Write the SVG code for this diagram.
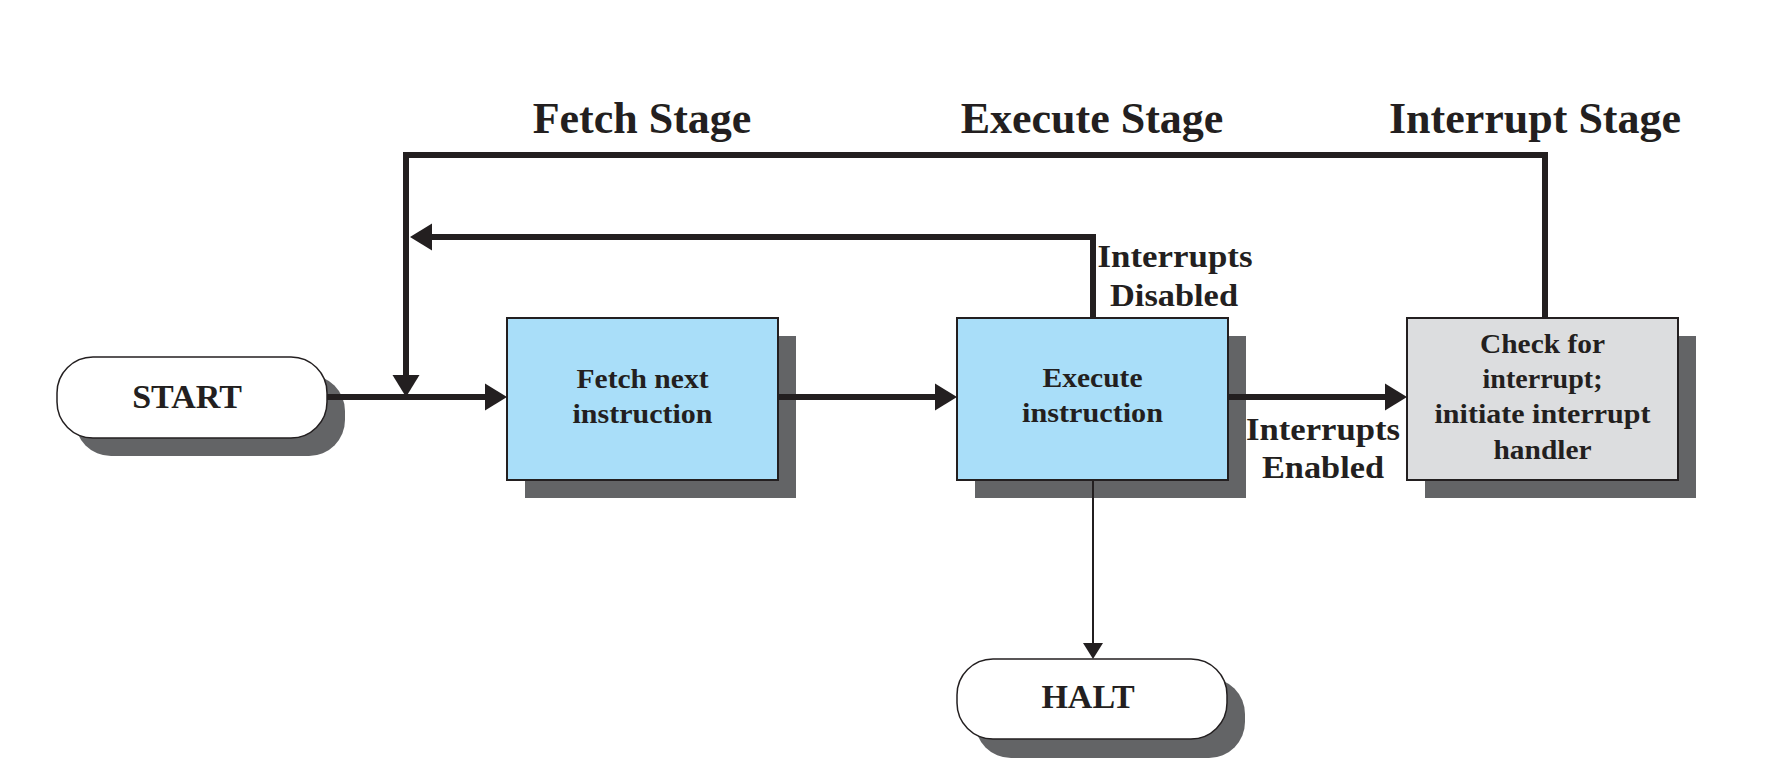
<svg xmlns="http://www.w3.org/2000/svg" width="1790" height="782" viewBox="0 0 1790 782">
  <style>
    .shadow { fill: #636466; }
    .box { stroke: #231f20; stroke-width: 2; }
    .blue { fill: #a9def9; }
    .gray { fill: #dcdddf; }
    .pill { fill: #ffffff; stroke: #231f20; stroke-width: 1.5; }
    text { font-family: "Liberation Serif", "Times New Roman", serif; font-weight: bold; fill: #231f20; text-anchor: middle; }
    .stage { font-size: 44px; }
    .term { font-size: 34px; }
    .node { font-size: 27px; }
    .lbl { font-size: 31px; }
    .thick { fill: none; stroke: #231f20; stroke-width: 6; stroke-linejoin: miter; }
    .thin { fill: none; stroke: #231f20; stroke-width: 2; }
  </style>
  <defs>
    <marker id="ah" markerUnits="userSpaceOnUse" markerWidth="24" markerHeight="28" refX="0" refY="13.5" orient="auto" overflow="visible">
      <path d="M0,0 L22,13.5 L0,27 Z" fill="#231f20"/>
    </marker>
    <marker id="ahs" markerUnits="userSpaceOnUse" markerWidth="18" markerHeight="22" refX="0" refY="10" orient="auto" overflow="visible">
      <path d="M0,0 L16,10 L0,20 Z" fill="#231f20"/>
    </marker>
  </defs>

  <g id="stage-labels">
    <text class="stage" x="642" y="133">Fetch Stage</text>
    <text class="stage" x="1092" y="133">Execute Stage</text>
    <text class="stage" x="1535" y="133">Interrupt Stage</text>
  </g>

  <g id="start">
    <rect class="shadow" x="75" y="375" width="270" height="81" rx="36" ry="36"/>
    <rect class="pill" x="57" y="357" width="270" height="81" rx="36" ry="36"/>
    <text class="term" x="187" y="408">START</text>
  </g>

  <g id="fetch">
    <rect class="shadow" x="525" y="336" width="271" height="162"/>
    <rect class="box blue" x="507" y="318" width="271" height="162"/>
    <text class="node" x="642.5" y="388" textLength="132" lengthAdjust="spacingAndGlyphs">Fetch next</text>
    <text class="node" x="642.5" y="423" textLength="140" lengthAdjust="spacingAndGlyphs">instruction</text>
  </g>

  <g id="execute">
    <rect class="shadow" x="975" y="336" width="271" height="162"/>
    <rect class="box blue" x="957" y="318" width="271" height="162"/>
    <text class="node" x="1092.5" y="387" textLength="100" lengthAdjust="spacingAndGlyphs">Execute</text>
    <text class="node" x="1092.5" y="422" textLength="141" lengthAdjust="spacingAndGlyphs">instruction</text>
  </g>

  <g id="check">
    <rect class="shadow" x="1425" y="336" width="271" height="162"/>
    <rect class="box gray" x="1407" y="318" width="271" height="162"/>
    <text class="node" x="1542.5" y="353" textLength="125" lengthAdjust="spacingAndGlyphs">Check for</text>
    <text class="node" x="1542.5" y="388" textLength="120" lengthAdjust="spacingAndGlyphs">interrupt;</text>
    <text class="node" x="1542.5" y="423" textLength="216" lengthAdjust="spacingAndGlyphs">initiate interrupt</text>
    <text class="node" x="1542.5" y="459" textLength="98" lengthAdjust="spacingAndGlyphs">handler</text>
  </g>

  <g id="halt">
    <rect class="shadow" x="975" y="678" width="270" height="80" rx="36" ry="36"/>
    <rect class="pill" x="957" y="659" width="270" height="80" rx="36" ry="36"/>
    <text class="term" x="1088" y="708">HALT</text>
  </g>

  <g id="connectors">
    <line class="thick" x1="327" y1="397" x2="485" y2="397" marker-end="url(#ah)"/>
    <line class="thick" x1="778" y1="397" x2="935" y2="397" marker-end="url(#ah)"/>
    <line class="thick" x1="1228" y1="397" x2="1385" y2="397" marker-end="url(#ah)"/>
    <line class="thin" x1="1093" y1="480" x2="1093" y2="643" marker-end="url(#ahs)"/>
    <path class="thick" d="M1093,318 V237 H432" marker-end="url(#ah)"/>
    <path class="thick" d="M1545,318 V155 H406 V375" marker-end="url(#ah)"/>
  </g>

  <g id="connector-labels">
    <text class="lbl" x="1175" y="267" textLength="155" lengthAdjust="spacingAndGlyphs">Interrupts</text>
    <text class="lbl" x="1174" y="306" textLength="128" lengthAdjust="spacingAndGlyphs">Disabled</text>
    <text class="lbl" x="1323" y="440" textLength="154" lengthAdjust="spacingAndGlyphs">Interrupts</text>
    <text class="lbl" x="1323" y="478" textLength="122" lengthAdjust="spacingAndGlyphs">Enabled</text>
  </g>
</svg>
